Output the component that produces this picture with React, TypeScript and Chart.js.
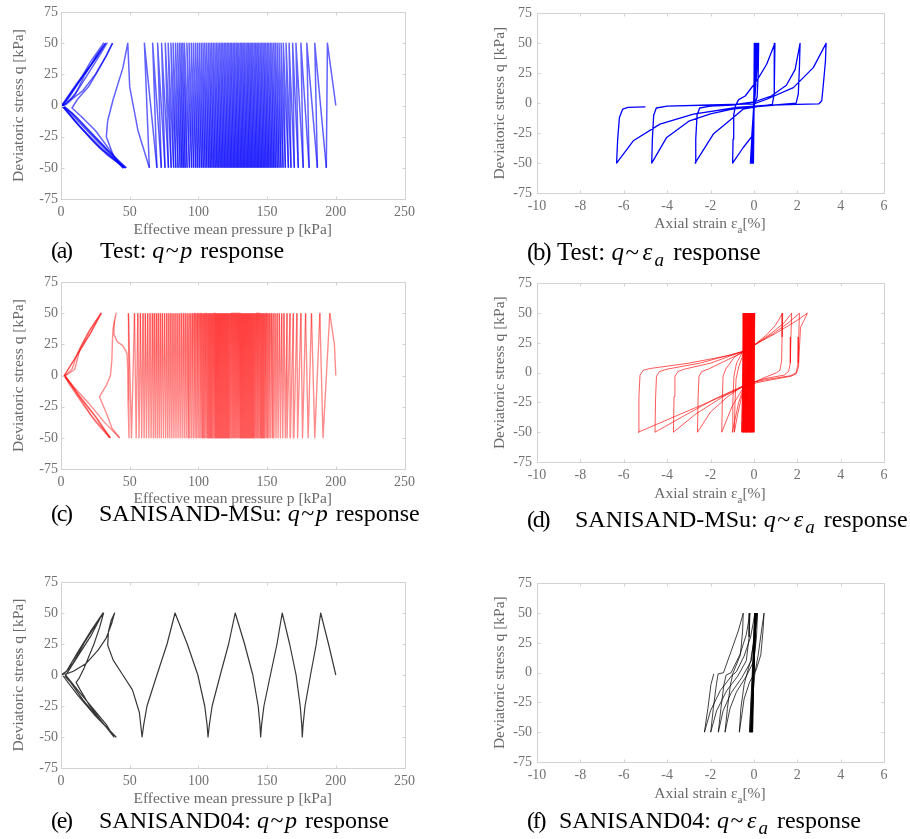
import React, { useEffect, useRef } from "react";
import { Chart, registerables } from "chart.js";

Chart.register(...registerables);

const SERIF = '"Liberation Serif", "Times New Roman", Times, serif';
const TICK_COLOR = "#707070";
const TITLE_COLOR = "#6a6a6a";
const FRAME_COLOR = "#d2d2d2";
const TICK_SIZE = 14;
const TITLE_SIZE = 15.5;

// ---- axes ----
const P_RANGE = [0, 250, 50];
const E_RANGE = [-10, 6, 2];
const Q_RANGE = [-75, 75, 25];
const Q_AMP = 50;
const P_TITLE = "Effective mean pressure p [kPa]";
const Q_TITLE = "Deviatoric stress q [kPa]";

// ---- (a) Test: q~p ----
const A_HEAD: [number, number][] = [[200, 0]];
const A_TOP = [193.9, 184.7, 178.9, 174.6, 171.0, 168.6, 166.0, 163.8, 161.8, 160.2, 158.7, 157.3, 156.0, 154.8, 153.5, 152.4, 151.2, 150.1, 149.0, 147.9, 146.9, 145.8, 144.8, 143.7, 142.7, 141.7, 140.7, 139.6, 138.6, 137.6, 136.6, 135.6, 134.6, 133.5, 132.5, 131.5, 130.5, 129.4, 128.4, 127.4, 126.3, 125.3, 124.2, 123.2, 122.1, 121.0, 119.9, 118.8, 117.7, 116.6, 115.5, 114.3, 113.2, 112.0, 110.8, 109.6, 108.4, 107.2, 105.9, 104.6, 103.3, 102.0, 100.6, 99.2, 97.8, 96.3, 94.8, 93.2, 91.6, 89.8, 88.6, 87.4, 86.2, 84.8, 83.3, 81.6, 80.0, 78.0, 75.9, 73.2, 70.3, 66.7, 60.7];
const A_BOT = [193.1, 186.6, 180.6, 176.3, 172.7, 169.8, 167.4, 165.5, 163.3, 161.6, 160.1, 158.7, 157.4, 156.1, 154.9, 153.7, 152.6, 151.4, 150.4, 149.3, 148.2, 147.2, 146.1, 145.1, 144.0, 143.0, 142.0, 141.0, 139.9, 138.9, 137.9, 136.9, 135.9, 134.9, 133.8, 132.8, 131.8, 130.8, 129.7, 128.7, 127.7, 126.6, 125.6, 124.5, 123.5, 122.4, 121.3, 120.2, 119.1, 118.0, 116.9, 115.8, 114.6, 113.5, 112.3, 111.1, 109.9, 108.7, 107.5, 106.2, 104.9, 103.6, 102.3, 100.9, 99.5, 98.1, 96.6, 95.1, 93.5, 91.8, 90.4, 89.2, 88.0, 86.7, 85.2, 83.6, 82.0, 80.2, 78.2, 75.7, 73.0, 69.8, 64.3];
const A_TAIL: [number, number][] = [
  [56, -20], [50, 15], [48.6, 50],
  [45, 30], [38, 5], [34, -12], [33, -25], [38, -40], [45, -50],
  [35, -35], [25, -20], [14, -8], [8, -2], [12, 5], [20, 15], [28, 30], [33, 40], [37.5, 50],
  [33, 40], [25, 25], [16, 12], [9, 6], [4, 1], [1.5, 0],
  [10, -12], [22, -27], [34, -40], [46.5, -50],
  [36, -38], [24, -24], [12, -10], [4, -2], [1, 0],
  [10, 14], [20, 30], [27, 40], [33.5, 50],
  [28, 40], [20, 26], [12, 12], [7, 5], [2, 0.5], [0.5, 0],
  [12, -15], [28, -34], [47.5, -50],
  [34, -36], [20, -20], [8, -6], [1, 0],
  [9, 13], [19, 28], [26, 39], [32.5, 50],
  [26, 40], [17, 24], [10, 8], [3, 1], [0.5, 0],
  [14, -17], [30, -35], [45.5, -50],
  [32, -35], [18, -19], [6, -5], [0.5, 0],
  [11, 17], [22, 33], [31, 50],
  [22, 36], [12, 17], [5, 5], [0.5, 0],
];

// ---- (b) Test: q~eps ----
const B_PATH: [number, number][] = [
  [0, 0], [0.02, 50], [-0.02, -50], [0.04, 50], [-0.05, -50], [0.06, 50], [-0.08, -50], [0.09, 50], [-0.1, -50], [0.12, 50], [-0.13, -50], [0.16, 50], [-0.16, -50], [0.22, 50],
  [0.2, 25], [0.15, 5], [0, -2], [-0.1, -28], [-0.49, -37], [-0.98, -50],
  [-0.96, -30], [-0.93, -10], [-0.85, -2], [-0.7, 3], [-0.4, 6], [0.13, 18.6], [0.59, 32.5], [0.97, 50],
  [0.95, 30], [0.93, 8], [0.85, -1], [0.3, -2.5], [-0.5, -5], [-0.95, -11.9], [-1.87, -25.8], [-2.71, -50],
  [-2.68, -30], [-2.62, -10], [-2.5, -4], [-2.0, -2.5], [-1, -1.5], [0, 1], [0.8, 6], [1.5, 15], [1.9, 28], [2.13, 50],
  [2.1, 30], [2.05, 8], [1.95, 0], [1.0, -1.5], [0, -3], [-1.0, -5], [-2.0, -9], [-3.0, -15], [-4.02, -28.6], [-4.71, -50],
  [-4.68, -30], [-4.62, -10], [-4.5, -4], [-4.0, -2.5], [-2, -1.5], [0, -0.5], [0.59, 3.3], [1.82, 13], [2.74, 29.7], [3.33, 50],
  [3.3, 35], [3.2, 15], [3.13, 2], [3.0, -0.5], [2.0, -1], [0.5, -1.8], [-0.79, -3.6], [-2.79, -9.2], [-4.33, -17.5], [-5.56, -31.4], [-6.33, -50],
  [-6.28, -30], [-6.2, -12], [-6.05, -5], [-5.8, -3.5], [-5.0, -3],
];

// ---- (c) SANISAND-MSu: q~p ----
const C_HEAD: [number, number][] = [[200, 0], [199, 25]];
const C_TOP = [195.6, 188.4, 182.3, 178.0, 174.6, 171.7, 169.1, 166.7, 164.5, 162.3, 160.6, 158.9, 157.3, 155.8, 154.4, 153.1, 151.9, 150.8, 149.8, 148.9, 148.0, 147.2, 146.4, 145.6, 144.8, 144.0, 143.3, 142.6, 141.9, 141.2, 140.5, 139.8, 139.1, 138.4, 137.7, 137.0, 136.3, 135.6, 134.9, 134.2, 133.5, 132.8, 132.1, 131.4, 130.7, 130.0, 129.3, 128.6, 127.9, 127.2, 126.5, 125.8, 125.1, 124.4, 123.7, 123.0, 122.3, 121.6, 120.9, 120.2, 119.5, 118.8, 118.1, 117.4, 116.7, 116.0, 115.3, 114.6, 113.9, 113.2, 112.5, 111.8, 111.0, 110.2, 109.4, 108.6, 107.8, 107.0, 106.1, 105.2, 104.3, 103.4, 102.4, 101.4, 100.4, 99.3, 98.2, 97.0, 95.8, 94.5, 93.2, 91.8, 90.4, 89.0, 87.5, 86.0, 84.5, 83.0, 81.5, 80.0, 78.5, 77.0, 75.4, 73.8, 72.3, 70.8, 69.4, 67.9, 66.5, 64.8, 63.1, 61.4, 59.7, 57.8, 55.9, 53.5, 49.1];
const C_BOT = [190.7, 184.7, 179.9, 175.8, 172.2, 169.5, 166.9, 164.5, 163.3, 161.4, 159.7, 158.0, 156.5, 155.0, 153.7, 152.4, 151.3, 150.2, 149.3, 148.4, 147.6, 146.8, 146.0, 145.2, 144.4, 143.6, 142.9, 142.2, 141.5, 140.8, 140.1, 139.4, 138.7, 138.0, 137.3, 136.6, 135.9, 135.2, 134.5, 133.8, 133.1, 132.4, 131.7, 131.0, 130.3, 129.6, 128.9, 128.2, 127.5, 126.8, 126.1, 125.4, 124.7, 124.0, 123.3, 122.6, 121.9, 121.2, 120.5, 119.8, 119.1, 118.4, 117.7, 117.0, 116.3, 115.6, 114.9, 114.2, 113.5, 112.8, 112.1, 111.4, 110.6, 109.8, 109.0, 108.2, 107.4, 106.5, 105.6, 104.7, 103.8, 102.9, 101.9, 100.9, 99.8, 98.7, 97.6, 96.4, 95.1, 93.8, 92.5, 91.1, 89.7, 88.2, 86.7, 85.2, 83.7, 82.2, 80.7, 79.2, 77.7, 76.2, 74.6, 73.0, 71.5, 70.1, 68.6, 67.2, 65.6, 63.9, 62.2, 60.5, 58.7, 56.8, 54.7, 51.3, 49.5];
const C_TAIL: [number, number][] = [
  [48.8, -20], [48.6, 5], [48, 18], [45, 24], [41, 27], [38.5, 33], [38.8, 44], [40.2, 50],
  [38, 38], [37.5, 30], [37, 12], [36, 0], [33, -8], [28, -17], [33, -30], [37, -42], [42.6, -50],
  [32, -38], [20, -22], [10, -10], [3, -1], [2.4, 0],
  [12, 17], [22, 35], [29.4, 50],
  [22, 38], [14, 22], [10, 5], [5, 1], [2.4, 0],
  [12, -15], [25, -33], [35.4, -50],
  [25, -37], [14, -20], [6, -7], [2.4, 0],
  [12, 17], [22, 35], [29, 50],
  [20, 35], [12, 18], [8, 5], [3, 0],
  [14, -17], [26, -34], [36, -50],
  [22, -32], [10, -12], [2.4, 0],
];

// ---- (d) SANISAND-MSu: q~eps ----
const D_BAND_TOP = [0.02, -0.03, 0.04, -0.08, 0.0, -0.12, -0.04, -0.16, -0.07, -0.2, -0.1, -0.24, -0.14, -0.28, -0.18, -0.32, -0.22, -0.36, -0.26, -0.4, -0.3, -0.44, -0.34, -0.48, -0.38, -0.5, -0.42, -0.46, -0.05, -0.15];
const D_BAND_BOT = [-0.05, 0.0, -0.1, -0.02, -0.14, -0.06, -0.18, -0.09, -0.22, -0.12, -0.26, -0.16, -0.3, -0.2, -0.34, -0.24, -0.38, -0.28, -0.42, -0.32, -0.46, -0.36, -0.5, -0.4, -0.54, -0.44, -0.56, -0.48, -0.52, -0.35];
const D_LOOPS: [number, number][] = [
  [-0.08, 25], [-0.15, 5], [-0.3, -5], [-0.5, -15], [-0.75, -35], [-0.9, -50],
  [-0.87, -25], [-0.82, -5], [-0.7, 5], [-0.5, 15], [-0.3, 30], [-0.1, 50],
  [-0.15, 25], [-0.2, 5], [-0.4, -8], [-0.7, -25], [-1.0, -50],
  [-0.97, -25], [-0.92, -3], [-0.8, 8], [-0.5, 18], [-0.3, 32], [-0.05, 50],
  [-0.1, 25], [-0.15, 0], [-0.4, -10], [-1.0, -28], [-1.48, -50],
  [-1.45, -20], [-1.42, -3], [-1.3, 3], [-0.9, 13], [-0.4, 19], [0, 23], [0.6, 32], [1.0, 40], [1.33, 50],
  [1.3, 30], [1.28, 10], [1.2, 2], [1.05, 0], [0.5, -4], [0, -8], [-0.4, -10], [-1.2, -20], [-2.0, -33], [-2.6, -50],
  [-2.57, -20], [-2.53, -3], [-2.4, 1], [-2.1, 3], [-1.2, 11], [-0.5, 17], [0, 23], [0.8, 33], [1.4, 42], [1.74, 50],
  [1.71, 30], [1.68, 8], [1.6, 1], [1.4, -2], [0.5, -5], [0, -8], [-0.45, -11], [-1.5, -21], [-2.7, -35], [-3.71, -50],
  [-3.68, -20], [-3.64, -3], [-3.5, 1], [-3.2, 3], [-2, 8], [-0.5, 18], [0, 23], [0.9, 33], [1.6, 42], [2.1, 50],
  [2.07, 30], [2.04, 8], [1.95, 0], [1.7, -2.5], [0.5, -6], [0, -8], [-0.5, -11], [-1.8, -22], [-3.2, -36], [-4.56, -50],
  [-4.53, -20], [-4.49, -3], [-4.35, 1], [-4.0, 3], [-2.5, 8], [-0.5, 18], [0, 23], [1.0, 33], [2.0, 44], [2.47, 50],
  [2.15, 38], [2.1, 20], [2.06, 5], [1.95, -1], [1.7, -3], [0.5, -7], [0, -9], [-0.5, -12], [-2, -24], [-3.8, -38], [-5.33, -50],
  [-5.3, -20], [-5.25, -2], [-5.1, 2], [-4.8, 3.5], [-3, 8], [-1, 15], [-0.4, 18], [0, 22],
];

// ---- (e) SANISAND04: q~p ----
const E_PATH: [number, number][] = [
  [200, 0], [194.7, 25], [189, 50],
  [185.8, 25], [181.6, 0], [177.6, -25], [176.2, -40], [175.6, -50],
  [175.2, -40], [174.1, -25], [171.1, 0], [166.4, 25], [161, 50],
  [157.2, 25], [152.4, 0], [147.7, -25], [146.0, -40], [145.3, -50],
  [144.8, -40], [143.5, -25], [139.6, 0], [133.6, 25], [126.8, 50],
  [122, 25], [115.9, 0], [110, -25], [108, -40], [107, -50],
  [106.3, -40], [104.6, -25], [99.6, 0], [91.9, 25], [83, 50],
  [77.2, 25], [69.8, 0], [62.6, -25], [60.2, -40], [59, -50],
  [57, -30], [52, -12], [45, 0], [38, 12], [34, 24], [34.5, 35], [36.5, 44], [39, 50],
  [37, 42], [33, 30], [27, 20], [18, 9], [9, 3], [3, 0.5],
  [12, -12], [24, -28], [33, -40], [38.5, -50],
  [30, -38], [21, -25], [14, -12], [11, -6], [13, -3], [17, 6], [24, 25], [28, 38], [31, 50],
  [25, 40], [17, 26], [9, 10], [4, 3], [1, 0],
  [12, -16], [25, -33], [40, -50],
  [28, -36], [16, -20], [7, -6], [3, -1],
  [11, 13], [22, 32], [30.5, 50],
  [22, 36], [12, 18], [4, 3], [0, 0],
];

// ---- (f) SANISAND04: q~eps ----
const F_PATH: [number, number][] = [
  [0, 0], [0.03, 50], [-0.06, -50], [0.06, 50], [-0.09, -50], [0.08, 50], [-0.12, -50], [0.1, 50], [-0.14, -50], [0.12, 50], [-0.16, -50], [0.05, 50], [-0.2, -50], [0.09, 50], [-0.1, -50],
  [-0.05, -20], [0.05, 0], [0.2, 15], [0.35, 35], [0.47, 50],
  [0.42, 35], [0.32, 15], [0.1, 2], [-0.2, -8], [-0.45, -22], [-0.67, -50],
  [-0.6, -30], [-0.45, -10], [-0.32, -1], [-0.15, 10], [0.05, 32], [0.17, 50],
  [0.12, 30], [0, 10], [-0.35, -3], [-0.8, -16], [-1.1, -30], [-1.33, -50],
  [-1.22, -30], [-1.08, -10], [-0.98, -2], [-0.8, 1], [-0.45, 14], [-0.15, 30], [0.05, 50],
  [0, 30], [-0.12, 10], [-0.55, -4], [-1.05, -17], [-1.42, -32], [-1.64, -50],
  [-1.52, -30], [-1.38, -10], [-1.28, -2], [-1.05, 0], [-0.65, 15], [-0.35, 32], [-0.18, 50],
  [-0.22, 30], [-0.35, 10], [-0.75, -3], [-1.25, -15], [-1.72, -32], [-1.99, -50],
  [-1.87, -30], [-1.73, -10], [-1.65, -1], [-1.4, 0], [-1.05, 18], [-0.72, 35], [-0.49, 50],
  [-0.52, 35], [-0.62, 15], [-1.0, -2], [-1.55, -15], [-2.0, -32], [-2.28, -50],
  [-2.12, -30], [-1.98, -10], [-1.85, -1],
];

type Pt = { x: number; y: number };

function fromPairs(pairs: [number, number][]): Pt[] {
  return pairs.map(([x, y]) => ({ x, y }));
}

// stress path: head points, then alternating +amp / -amp turning points, then tail
function cyclicPath(head: [number, number][], tops: number[], bots: number[], tail: [number, number][]): Pt[] {
  const pts: Pt[] = fromPairs(head);
  const n = Math.max(tops.length, bots.length);
  for (let i = 0; i < n; i++) {
    if (i < tops.length) pts.push({ x: tops[i], y: Q_AMP });
    if (i < bots.length) pts.push({ x: bots[i], y: -Q_AMP });
  }
  return pts.concat(fromPairs(tail));
}

// split one long path into short consecutive pieces, so overlapping
// translucent strokes build up colour like the dense original traces
function splitPath(pts: Pt[], segs: number): Pt[][] {
  const out: Pt[][] = [];
  for (let i = 0; i < pts.length - 1; i += segs) {
    out.push(pts.slice(i, Math.min(i + segs + 1, pts.length)));
  }
  return out;
}

const framePlugin = {
  id: "frame",
  afterDraw(chart: any) {
    const { ctx, chartArea: a, scales } = chart;
    ctx.save();
    ctx.strokeStyle = FRAME_COLOR;
    ctx.lineWidth = 1;
    const l = Math.round(a.left) + 0.5, t = Math.round(a.top) + 0.5;
    const r = Math.round(a.right) + 0.5, b = Math.round(a.bottom) + 0.5;
    ctx.strokeRect(l, t, r - l, b - t);
    const L = 3;
    ctx.beginPath();
    for (const tk of scales.x.ticks) {
      const px = Math.round(scales.x.getPixelForValue(tk.value)) + 0.5;
      ctx.moveTo(px, b); ctx.lineTo(px, b - L);
      ctx.moveTo(px, t); ctx.lineTo(px, t + L);
    }
    for (const tk of scales.y.ticks) {
      const py = Math.round(scales.y.getPixelForValue(tk.value)) + 0.5;
      ctx.moveTo(l, py); ctx.lineTo(l + L, py);
      ctx.moveTo(r, py); ctx.lineTo(r - L, py);
    }
    ctx.stroke();
    ctx.restore();
  },
};

interface PanelProps {
  left: number; top: number; width: number; height: number;
  plotL: number; plotT: number; plotR: number; plotB: number;
  xRange: number[]; xTitle?: string; xTitleY?: number; yTitleX: number; yTickPad: number; xTickPad: number;
  series: Pt[][]; color: string; lineWidth: number;
}

function Panel(props: PanelProps) {
  const ref = useRef<HTMLCanvasElement>(null);
  useEffect(() => {
    const { width, height, plotL, plotT, plotR, plotB, xRange, xTitle, xTitleY, yTitleX, yTickPad, xTickPad, series, color, lineWidth } = props;
    const tickFont = { family: SERIF, size: TICK_SIZE };
    const titleFont = { family: SERIF, size: TITLE_SIZE, lineHeight: 1.2 };
    const halfLine = (TITLE_SIZE * 1.2) / 2;
    const chart = new Chart(ref.current as HTMLCanvasElement, {
      type: "scatter",
      data: {
        datasets: series.map((s) => ({
          data: s,
          showLine: true,
          borderColor: color,
          backgroundColor: color,
          borderWidth: lineWidth,
          pointRadius: 0,
          pointHoverRadius: 0,
          tension: 0,
          borderJoinStyle: "round",
          borderCapStyle: "butt",
        })),
      } as any,
      options: {
        animation: false,
        responsive: false,
        events: [],
        plugins: { legend: { display: false }, tooltip: { enabled: false } },
        layout: { padding: { left: 0, top: plotT, right: width - plotR, bottom: 0 } },
        scales: {
          x: {
            type: "linear",
            min: xRange[0],
            max: xRange[1],
            ticks: { stepSize: xRange[2], color: TICK_COLOR, font: tickFont, padding: xTickPad, maxRotation: 0, autoSkip: false },
            grid: { display: false, drawTicks: false },
            border: { display: false },
            title: xTitle
              ? { display: true, text: xTitle, color: TITLE_COLOR, font: titleFont, padding: { top: 0, bottom: height - (xTitleY || 0) - halfLine } }
              : { display: false },
            afterFit: (s: any) => { s.height = height - plotB; },
          },
          y: {
            type: "linear",
            min: Q_RANGE[0],
            max: Q_RANGE[1],
            ticks: { stepSize: Q_RANGE[2], color: TICK_COLOR, font: tickFont, padding: yTickPad, autoSkip: false },
            grid: { display: false, drawTicks: false },
            border: { display: false },
            title: { display: true, text: Q_TITLE, color: TITLE_COLOR, font: titleFont, padding: { top: yTitleX - halfLine, bottom: 0 } },
            afterFit: (s: any) => { s.width = plotL; },
          },
        },
      } as any,
      plugins: [framePlugin],
    });
    return () => chart.destroy();
  }, []);
  return (
    <canvas
      ref={ref}
      width={props.width}
      height={props.height}
      style={{ position: "absolute", left: props.left, top: props.top, width: props.width, height: props.height }}
    />
  );
}

function StrainTitle({ top }: { top: number }) {
  return (
    <div style={{ position: "absolute", left: 560, top, width: 300, textAlign: "center", fontFamily: SERIF, fontSize: TITLE_SIZE, lineHeight: `${TITLE_SIZE}px`, color: TITLE_COLOR, whiteSpace: "nowrap" }}>
      Axial strain ε<sub style={{ fontSize: 11, verticalAlign: -5 }}>a</sub>[%]
    </div>
  );
}

function Caption({ top, left, textLeft, label, size, children }: { top: number; left: number; textLeft: number; label: string; size: number; children: any }) {
  return (
    <div style={{ position: "absolute", left: 0, top, width: 910, height: 32, fontFamily: SERIF, fontSize: size, lineHeight: `${size}px`, color: "#000", whiteSpace: "nowrap" }}>
      <span style={{ position: "absolute", left, letterSpacing: -2.3 }}>{label}</span>
      <span style={{ position: "absolute", left: textLeft }}>{children}</span>
    </div>
  );
}

const QP = (
  <>
    <i>q</i><span style={{ margin: "0 1.5px" }}>~</span><i style={{ marginRight: 2 }}>p</i>
  </>
);
const QE = (
  <>
    <i>q</i><span style={{ margin: "0 1.5px" }}>~</span><i style={{ marginLeft: 2 }}>ε</i>
    <sub style={{ fontSize: 19, verticalAlign: -6, marginLeft: 2, marginRight: 3 }}><i>a</i></sub>
  </>
);

export default function App() {
  const seriesA = splitPath(cyclicPath(A_HEAD, A_TOP, A_BOT, A_TAIL), 2);
  const seriesB = [fromPairs(B_PATH)];
  const seriesC = splitPath(cyclicPath(C_HEAD, C_TOP, C_BOT, C_TAIL), 2);
  const seriesD = splitPath(cyclicPath([[0, 0]], D_BAND_TOP, D_BAND_BOT, D_LOOPS), 2);
  const seriesE = [fromPairs(E_PATH)];
  const seriesF = [fromPairs(F_PATH)];
  return (
    <div style={{ position: "absolute", left: 0, top: 0, width: 910, height: 839, background: "#fff", overflow: "hidden" }}>
      <Panel left={0} top={0} width={420} height={245} plotL={61} plotT={12} plotR={407} plotB={199}
        xRange={P_RANGE} xTitle={P_TITLE} xTitleY={230} yTitleX={18.5} yTickPad={3} xTickPad={5}
        series={seriesA} color="rgba(0,0,255,0.62)" lineWidth={1.5} />
      <Panel left={460} top={0} width={440} height={245} plotL={77} plotT={12} plotR={424} plotB={193}
        xRange={E_RANGE} yTitleX={40} yTickPad={5} xTickPad={5}
        series={seriesB} color="#0000ff" lineWidth={1.3} />
      <Panel left={0} top={270} width={420} height={245} plotL={61} plotT={12} plotR={407} plotB={199}
        xRange={P_RANGE} xTitle={P_TITLE} xTitleY={229} yTitleX={18.5} yTickPad={3} xTickPad={5}
        series={seriesC} color="rgba(255,0,0,0.45)" lineWidth={1.4} />
      <Panel left={460} top={270} width={440} height={245} plotL={77} plotT={12} plotR={424} plotB={192}
        xRange={E_RANGE} yTitleX={40} yTickPad={5} xTickPad={5}
        series={seriesD} color="rgba(255,0,0,0.65)" lineWidth={1} />
      <Panel left={0} top={570} width={420} height={245} plotL={61} plotT={12} plotR={407} plotB={198}
        xRange={P_RANGE} xTitle={P_TITLE} xTitleY={229} yTitleX={18.5} yTickPad={3} xTickPad={5}
        series={seriesE} color="rgba(20,20,20,0.85)" lineWidth={1.2} />
      <Panel left={460} top={570} width={440} height={245} plotL={77} plotT={12} plotR={424} plotB={192}
        xRange={E_RANGE} yTitleX={40} yTickPad={5} xTickPad={5}
        series={seriesF} color="rgba(0,0,0,0.75)" lineWidth={1} />

      <StrainTitle top={215} />
      <StrainTitle top={485} />
      <StrainTitle top={785} />

      <Caption top={238} left={51} textLeft={100} label="(a)" size={24}>Test: {QP} response</Caption>
      <Caption top={239} left={527} textLeft={557} label="(b)" size={25}>Test: {QE} response</Caption>
      <Caption top={501} left={51} textLeft={99} label="(c)" size={24}>SANISAND-MSu: {QP} response</Caption>
      <Caption top={507} left={527} textLeft={575} label="(d)" size={24}>SANISAND-MSu: {QE} response</Caption>
      <Caption top={808} left={51} textLeft={99} label="(e)" size={24}>SANISAND04: {QP} response</Caption>
      <Caption top={808} left={527} textLeft={559} label="(f)" size={24}>SANISAND04: {QE} response</Caption>
    </div>
  );
}
